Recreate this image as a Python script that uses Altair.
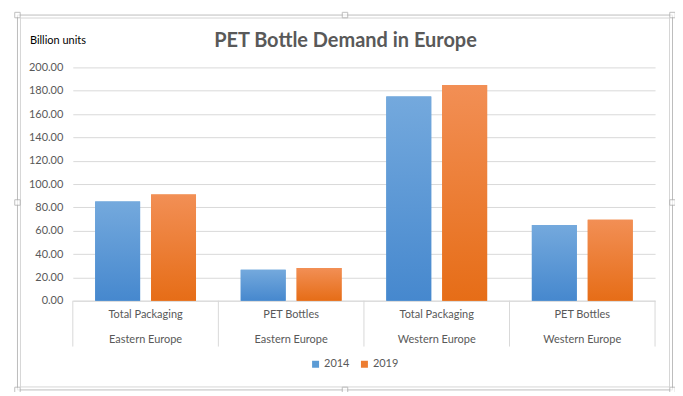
import altair as alt
import pandas as pd

# ---- data ----
products = ["Total Packaging", "PET Bottles", "Total Packaging", "PET Bottles"]
regions = ["Eastern Europe", "Eastern Europe", "Western Europe", "Western Europe"]
years = ["2014", "2019"]
values_2014 = [85, 26.5, 175, 65]
values_2019 = [91, 28, 185, 69.5]
y_ticks = [0, 20, 40, 60, 80, 100, 120, 140, 160, 180, 200]
title_text = "PET Bottle Demand in Europe"
unit_text = "Billion units"

cats = [p + "|" + r for p, r in zip(products, regions)]
rows = []
for c, v in zip(cats, values_2014):
    rows.append({"cat": c, "year": "2014", "value": v})
for c, v in zip(cats, values_2019):
    rows.append({"cat": c, "year": "2019", "value": v})
df = pd.DataFrame(rows)
cat_df = pd.DataFrame({"cat": cats})
one = pd.DataFrame({"k": [0]})

W, H = 584, 234
OX, OY = 73, 67          # page position of the plot origin
FONT = "Lato"
GREY = "#595959"

x_axis = alt.Axis(labelExpr="split(datum.label, '|')", labelAngle=0,
                  labelFont=FONT, labelFontSize=11, labelColor=GREY,
                  labelPadding=8, labelLineHeight=25,
                  domainColor="#d9d9d9", ticks=False, grid=False)
x_scale = alt.Scale(paddingInner=0, paddingOuter=0)
y_axis = alt.Axis(values=y_ticks, format=".2f", labelFont=FONT,
                  labelFontSize=11, labelColor=GREY, labelPadding=10,
                  labelOverlap=False,
                  domain=False, ticks=False, gridColor="#d9d9d9")
y_scale = alt.Scale(domain=[0, 200], nice=False)

x_enc = alt.X("cat:N", sort=cats, title=None, scale=x_scale, axis=x_axis)
y_enc = alt.Y("value:Q", title=None, scale=y_scale, axis=y_axis)
xoff = alt.XOffset("year:N", scale=alt.Scale(domain=years, paddingInner=0.196,
                                             paddingOuter=0.40))

base = alt.Chart(df).mark_bar().encode(
    x=x_enc, y=y_enc, xOffset=xoff,
    color=alt.Color("year:N", scale=alt.Scale(domain=years, range=["#5B9BD5", "#ED7D31"]),
                    legend=alt.Legend(orient="none", legendX=238, legendY=292,
                                      direction="horizontal", title=None,
                                      symbolType="square", symbolSize=49,
                                      symbolStrokeWidth=0, labelFont=FONT,
                                      labelFontSize=11, labelColor=GREY,
                                      columnPadding=9, labelOffset=3)),
)

def grad(top, bottom):
    return alt.Gradient(gradient="linear",
                        stops=[alt.GradientStop(color=top, offset=0),
                               alt.GradientStop(color=bottom, offset=1)],
                        x1=0, x2=0, y1=0, y2=1)

g14 = alt.Chart(df).transform_filter(alt.datum.year == "2014").mark_bar(
    fill=grad("#74A9DD", "#4688CE")).encode(x=x_enc, y=y_enc, xOffset=xoff)
g19 = alt.Chart(df).transform_filter(alt.datum.year == "2019").mark_bar(
    fill=grad("#F28F55", "#E66D17")).encode(x=x_enc, y=y_enc, xOffset=xoff)

dividers = alt.Chart(cat_df).mark_rule(color="#d9d9d9").encode(
    x=alt.X("cat:N", sort=cats, title=None, scale=x_scale, axis=x_axis, bandPosition=0),
    y=alt.value(H), y2=alt.value(H + 46))
right_div = alt.Chart(one).mark_rule(color="#d9d9d9").encode(
    x=alt.value(W), y=alt.value(H), y2=alt.value(H + 46))

title = alt.Chart(one).mark_text(text=title_text, font=FONT, fontSize=20,
                                 fontWeight="bold", color=GREY, align="center",
                                 baseline="middle").encode(
    x=alt.value(346.5 - OX), y=alt.value(41 - OY))
unit = alt.Chart(one).mark_text(text=unit_text, font=FONT, fontSize=11,
                                color="#000000", align="left",
                                baseline="middle").encode(
    x=alt.value(30 - OX), y=alt.value(41 - OY))

frame_outer = alt.Chart(one).mark_rect(fillOpacity=0, stroke="#bdbdbd", strokeWidth=1).encode(
    x=alt.value(17.5 - OX), x2=alt.value(674.5 - OX),
    y=alt.value(14.5 - OY), y2=alt.value(390.5 - OY))
frame_inner = alt.Chart(one).mark_rect(fillOpacity=0, stroke="#d6d6d6", strokeWidth=1).encode(
    x=alt.value(20.5 - OX), x2=alt.value(671.5 - OX),
    y=alt.value(17.5 - OY), y2=alt.value(387.5 - OY))

handle_layers = []
for hx in (17.5, 346, 674.5):
    for hy in (14.5, 202.5, 390.5):
        if hx == 346 and hy == 202.5:
            continue
        handle_layers.append(
            alt.Chart(one).mark_square(size=30, filled=True, fill="white",
                                       stroke="#a6a6a6", strokeWidth=1).encode(
                x=alt.value(hx - OX), y=alt.value(hy - OY)))

chart = alt.layer(frame_outer, frame_inner, *handle_layers, base, g14, g19,
                  dividers, right_div, title, unit).properties(
    width=W, height=H,
    padding={"left": OX - 8, "top": OY - 8, "right": 20, "bottom": 91},
    autosize=alt.AutoSizeParams(type="none"),
    view=alt.ViewBackground(stroke="transparent", strokeWidth=0),
).configure_view(strokeWidth=0, stroke="transparent").configure(background="white")

chart.save("out.html", embed_options={"renderer": "svg", "actions": False})
